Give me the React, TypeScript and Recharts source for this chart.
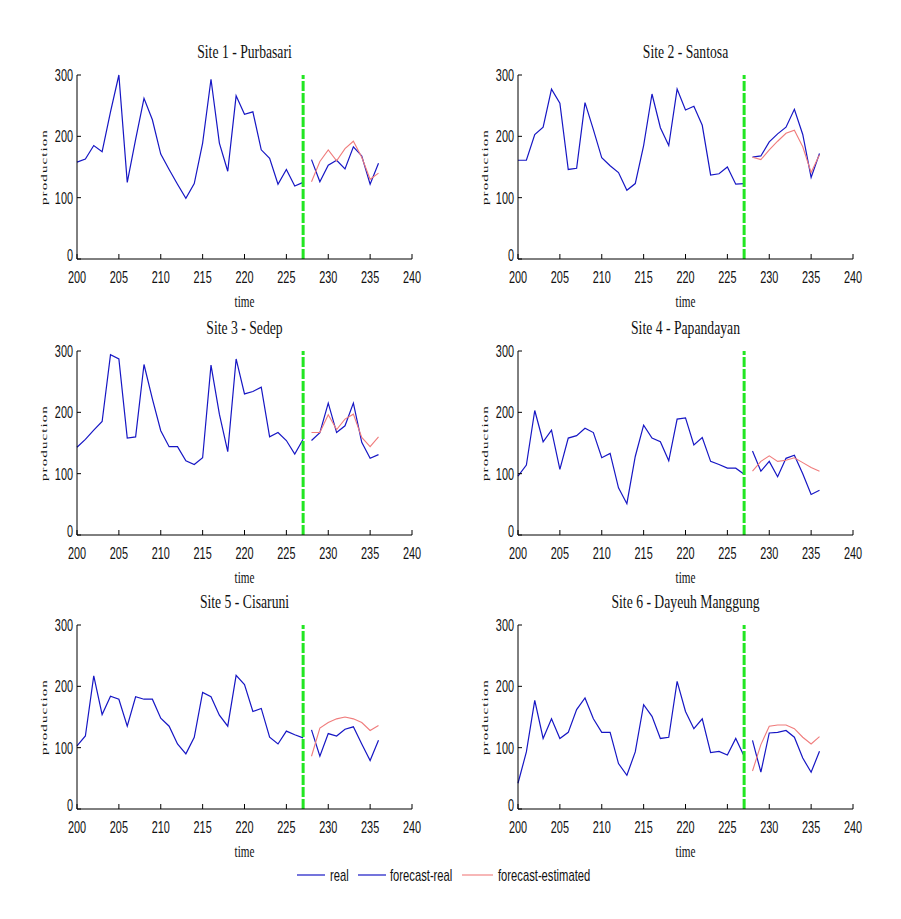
import { LineChart, Line, XAxis, YAxis, ReferenceLine } from "recharts";

// time axis
const REAL_START = 200;
const FORECAST_START = 228;
const SPLIT_TIME = 227;
const X_TICKS = [200, 205, 210, 215, 220, 225, 230, 235, 240];
const Y_TICKS = [0, 100, 200, 300];

const SITE_NAMES = [
  "Site 1 - Purbasari",
  "Site 2 - Santosa",
  "Site 3 - Sedep",
  "Site 4 - Papandayan",
  "Site 5 - Cisaruni",
  "Site 6 - Dayeuh Manggung",
];

// production, t = 200..227
const SITE1_REAL = [158, 163, 185, 175, 240, 300, 125, 195, 262, 227, 171, 146, 122, 99, 123, 189, 293, 189, 143, 266, 236, 240, 178, 164, 122, 146, 119, 125];
const SITE2_REAL = [161, 161, 203, 215, 277, 254, 146, 148, 255, 211, 165, 152, 141, 112, 123, 185, 269, 214, 185, 277, 243, 249, 218, 137, 139, 150, 122, 123];
const SITE3_REAL = [143, 156, 171, 185, 294, 287, 158, 160, 278, 222, 170, 144, 144, 121, 115, 126, 277, 197, 136, 287, 230, 234, 241, 160, 167, 154, 132, 156];
const SITE4_REAL = [96, 114, 203, 152, 171, 107, 158, 162, 174, 167, 126, 133, 77, 51, 128, 179, 158, 152, 121, 189, 191, 147, 159, 120, 115, 109, 109, 99];
const SITE5_REAL = [103, 119, 217, 154, 184, 179, 135, 183, 179, 179, 148, 135, 106, 90, 117, 190, 183, 153, 135, 218, 203, 159, 164, 117, 106, 127, 121, 116];
const SITE6_REAL = [42, 93, 177, 115, 147, 115, 125, 162, 181, 147, 125, 125, 74, 55, 93, 170, 151, 115, 117, 208, 159, 131, 147, 92, 94, 88, 115, 86];

// forecast window, t = 228..236
const SITE1_FC_REAL = [162, 126, 153, 161, 147, 183, 168, 122, 156];
const SITE1_FC_EST = [126, 159, 178, 160, 180, 192, 166, 130, 140];
const SITE2_FC_REAL = [166, 168, 191, 204, 215, 244, 203, 133, 172];
const SITE2_FC_EST = [166, 162, 178, 192, 205, 210, 183, 141, 170];
const SITE3_FC_REAL = [154, 167, 215, 167, 178, 215, 151, 125, 131];
const SITE3_FC_EST = [167, 167, 196, 172, 189, 197, 159, 144, 160];
const SITE4_FC_REAL = [137, 104, 120, 95, 125, 130, 100, 66, 73];
const SITE4_FC_EST = [104, 120, 129, 120, 122, 126, 118, 110, 104];
const SITE5_FC_REAL = [129, 86, 123, 119, 130, 134, 106, 79, 112];
const SITE5_FC_EST = [86, 132, 141, 147, 150, 147, 141, 128, 136];
const SITE6_FC_REAL = [112, 60, 124, 125, 128, 117, 83, 60, 94];
const SITE6_FC_EST = [62, 105, 135, 137, 137, 131, 117, 106, 118];

const BLUE = "#1616c4";
const RED = "#f07c7c";
const GREEN = "#22e622";
const SANS = "'Liberation Sans', Arial, sans-serif";
const SERIF = "'Liberation Serif', 'Times New Roman', serif";
const SQUASH = 0.64; // narrow glyphs

const COL_X = [77, 518];
const ROW_Y = [75, 351, 625];
const PLOT_W = 335;
const PLOT_H = 184;
const Y_AXIS_W = 40;

type Row = { t: number; real?: number; fcReal?: number; fcEst?: number };

function buildRows(real: number[], fcReal: number[], fcEst: number[]): Row[] {
  const rows: Row[] = [];
  real.forEach((v, i) => rows.push({ t: REAL_START + i, real: v }));
  fcReal.forEach((v, i) => rows.push({ t: FORECAST_START + i, fcReal: v, fcEst: fcEst[i] }));
  return rows;
}

const SITES = [
  buildRows(SITE1_REAL, SITE1_FC_REAL, SITE1_FC_EST),
  buildRows(SITE2_REAL, SITE2_FC_REAL, SITE2_FC_EST),
  buildRows(SITE3_REAL, SITE3_FC_REAL, SITE3_FC_EST),
  buildRows(SITE4_REAL, SITE4_FC_REAL, SITE4_FC_EST),
  buildRows(SITE5_REAL, SITE5_FC_REAL, SITE5_FC_EST),
  buildRows(SITE6_REAL, SITE6_FC_REAL, SITE6_FC_EST),
];

function NarrowText(props: {
  x: number;
  y: number;
  size: number;
  family: string;
  anchor?: "start" | "middle" | "end";
  rotate?: boolean;
  squash?: number;
  spacing?: number;
  children: React.ReactNode;
}) {
  const s = props.squash ?? SQUASH;
  return (
    <text
      transform={`translate(${props.x},${props.y}) scale(${s},1)${props.rotate ? " rotate(-90)" : ""}`}
      textAnchor={props.anchor ?? "start"}
      fontSize={props.size}
      fontFamily={props.family}
      letterSpacing={props.spacing ?? 0}
      fill="#111"
    >
      {props.children}
    </text>
  );
}

// ticks point inward, labels sit outside the axis
const XTick = (p: any) => (
  <g>
    <line x1={p.x} x2={p.x} y1={p.y} y2={p.y - 5} stroke="#000" />
    <NarrowText x={p.x} y={p.y + 24} size={17} family={SANS} anchor="middle">
      {p.payload.value}
    </NarrowText>
  </g>
);

const YTick = (p: any) => (
  <g>
    <line x1={p.x} x2={p.x + 4} y1={p.y} y2={p.y} stroke="#000" />
    <NarrowText x={p.x - 4} y={p.y + (p.payload.value === 0 ? 2 : 6)} size={17} family={SANS} anchor="end">
      {p.payload.value}
    </NarrowText>
  </g>
);

function SitePanel({ rows, left, top }: { rows: Row[]; left: number; top: number }) {
  return (
    <div style={{ position: "absolute", left: left - Y_AXIS_W, top: top - 10 }}>
      <LineChart
        width={Y_AXIS_W + PLOT_W + 25}
        height={10 + PLOT_H + 30}
        data={rows}
        margin={{ top: 10, right: 25, bottom: 0, left: 0 }}
      >
        <XAxis
          dataKey="t"
          type="number"
          domain={[200, 240]}
          ticks={X_TICKS}
          interval={0}
          tickSize={0}
          tickMargin={0}
          tickLine={false}
          height={30}
          axisLine={{ stroke: "#000" }}
          tick={XTick}
        />
        <YAxis
          type="number"
          domain={[0, 300]}
          ticks={Y_TICKS}
          interval={0}
          tickSize={0}
          tickMargin={0}
          tickLine={false}
          width={Y_AXIS_W}
          axisLine={{ stroke: "#000" }}
          tick={YTick}
        />
        <Line dataKey="real" type="linear" stroke={BLUE} strokeWidth={1.2} dot={false} isAnimationActive={false} />
        <Line dataKey="fcReal" type="linear" stroke={BLUE} strokeWidth={1.2} dot={false} isAnimationActive={false} />
        <Line dataKey="fcEst" type="linear" stroke={RED} strokeWidth={1.1} dot={false} isAnimationActive={false} />
        <ReferenceLine x={SPLIT_TIME} stroke={GREEN} strokeWidth={3} strokeDasharray="10 2" />
      </LineChart>
    </div>
  );
}

function Labels() {
  return (
    <svg width={901} height={919} style={{ position: "absolute", left: 0, top: 0, pointerEvents: "none" }}>
      {SITE_NAMES.map((name, i) => {
        const x0 = COL_X[i % 2];
        const y0 = ROW_Y[Math.floor(i / 2)];
        const cx = x0 + PLOT_W / 2;
        return (
          <g key={name}>
            <NarrowText x={cx} y={y0 - 17} size={19} family={SERIF} anchor="middle" squash={0.72}>
              {name}
            </NarrowText>
            <NarrowText x={cx} y={y0 + PLOT_H + 48} size={16} family={SERIF} anchor="middle" squash={0.7}>
              time
            </NarrowText>
            <NarrowText x={x0 - 30} y={y0 + PLOT_H / 2} size={15} family={SERIF} anchor="middle" rotate squash={0.6} spacing={1.1}>
              production
            </NarrowText>
          </g>
        );
      })}
      <g>
        <line x1={297} x2={325} y1={875} y2={875} stroke={BLUE} strokeWidth={1.2} />
        <NarrowText x={330} y={881} size={17} family={SANS} squash={0.66}>real</NarrowText>
        <line x1={358} x2={386} y1={875} y2={875} stroke={BLUE} strokeWidth={1.2} />
        <NarrowText x={390} y={881} size={17} family={SANS} squash={0.66}>forecast-real</NarrowText>
        <line x1={462} x2={493} y1={875} y2={875} stroke={RED} strokeWidth={1.1} />
        <NarrowText x={498} y={881} size={17} family={SANS} squash={0.66}>forecast-estimated</NarrowText>
      </g>
    </svg>
  );
}

export default function App() {
  return (
    <div style={{ position: "absolute", left: 0, top: 0, width: 901, height: 919, background: "#fff" }}>
      {SITES.map((rows, i) => (
        <SitePanel key={i} rows={rows} left={COL_X[i % 2]} top={ROW_Y[Math.floor(i / 2)]} />
      ))}
      <Labels />
    </div>
  );
}
